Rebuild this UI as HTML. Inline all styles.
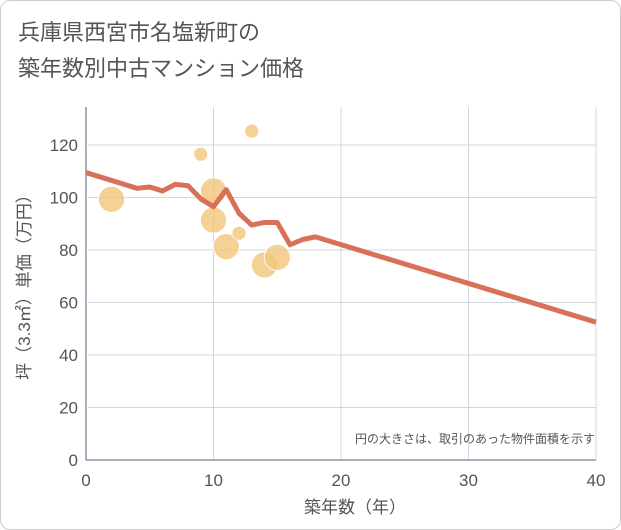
<!DOCTYPE html>
<html><head><meta charset="utf-8"><style>
body{margin:0;background:#fff;}
.card{position:absolute;left:0;top:0;width:619px;height:528px;border:1px solid #ccc;border-radius:10px;background:#fff;}
svg text{font-family:"Liberation Sans","Noto Sans CJK JP",sans-serif;}
</style></head><body>
<div class="card"></div>
<svg width="621" height="530" style="position:absolute;left:0;top:0">
<text x="18" y="40" font-size="22" fill="#555">兵庫県西宮市名塩新町の</text>
<text x="18" y="76" font-size="22" fill="#555">築年数別中古マンション価格</text>
<g id="grid"></g><g id="bubbles"></g><g id="line"></g><g id="axes"></g>
<text x="595" y="443" font-size="12" fill="#555" text-anchor="end">円の大きさは、取引のあった物件面積を示す</text>
<text x="355" y="513" font-size="17" fill="#555" text-anchor="middle">築年数（年）</text>
<text transform="translate(30,283) rotate(-90)" font-size="17" fill="#555" text-anchor="middle">坪（3.3㎡）単価（万円）</text>
</svg>
<script>
const xTicks=[0,10,20,30,40];
const yTicks=[0,20,40,60,80,100,120];
const lineYears=[0,4,5,6,7,8,9,10,11,12,13,14,15,16,17,18,40];
const linePrices=[109.5,103.5,104,102.5,105,104.5,99.5,96.5,103,94,89.5,90.5,90.5,82,84,85,52.5];
const bubbleYears=[2,9,10,10,11,12,13,14,15];
const bubblePrices=[99.3,116.5,102.5,91.4,81.3,86.4,125.3,74.3,77.2];
const bubbleSizes=[13,7,13,13,13,7,7,13,13];
const X0=86,X1=596,Y0=460,YT=107;
const sx=v=>X0+(v-0)/40*(X1-X0);
const sy=v=>Y0-v*2.625;
const NS="http://www.w3.org/2000/svg";
function mk(t,a,p){const e=document.createElementNS(NS,t);for(const k in a)e.setAttribute(k,a[k]);p.appendChild(e);return e;}
const grid=document.getElementById('grid'),axes=document.getElementById('axes');
xTicks.forEach(t=>{const l=mk('line',{x1:sx(t),x2:sx(t),y1:YT,y2:Y0,stroke:t===0?'#8a96a3':'#cfd8e0','stroke-width':t===0?1.5:1},grid);


const tx=mk('text',{x:sx(t),y:486,'font-size':17,fill:'#555','text-anchor':'middle'},axes);tx.textContent=t;

});
yTicks.forEach(t=>{const l=mk('line',{x1:X0,x2:X1,y1:sy(t),y2:sy(t),stroke:t===0?'#8a96a3':'#cfd8e0','stroke-width':t===0?1.5:1},grid);


const tx=mk('text',{x:78,y:sy(t)+6,'font-size':17,fill:'#555','text-anchor':'end'},axes);tx.textContent=t;

});
const bg=document.getElementById('bubbles');
bubbleYears.forEach((y,i)=>{const c=mk('circle',{cx:sx(y),cy:sy(bubblePrices[i]),r:bubbleSizes[i],fill:'#f2c57c','fill-opacity':0.8,stroke:'#fff','stroke-width':0.8},bg);

});
const pl=mk('polyline',{points:lineYears.map((y,i)=>sx(y)+','+sy(linePrices[i])).join(' '),fill:'none',stroke:'#d9705a','stroke-width':5,'stroke-linejoin':'round'},document.getElementById('line'));


</script>
</body></html>
